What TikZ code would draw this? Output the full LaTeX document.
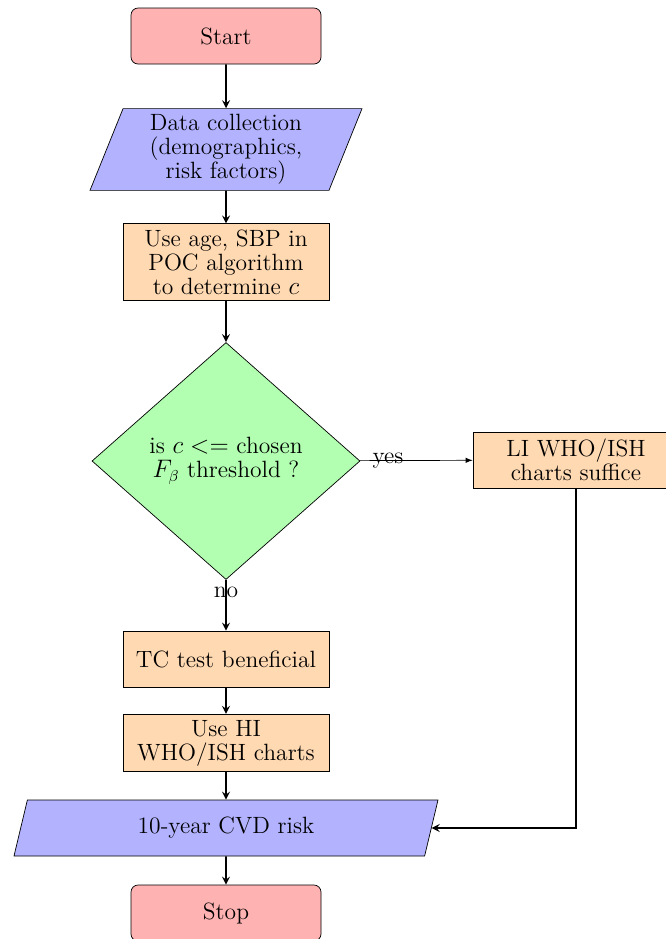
\documentclass[tikz,border=0pt]{standalone}
\usepackage{amsmath}
\usepackage{xcolor}
\usepackage{tikz}
\usetikzlibrary{arrows,shapes}

\begin{document}
\begin{tikzpicture}[font=\fontsize{13.4}{13.6}\selectfont,
    startstop/.style={rectangle, rounded corners, minimum width=3.8cm, minimum height=1.12cm, draw=black, fill=red!30},
    io/.style={trapezium, trapezium left angle=68, trapezium right angle=112, trapezium stretches body, align=center, draw=black, fill=blue!30},
    process/.style={rectangle, minimum width=4.12cm, minimum height=1.12cm, align=center, draw=black, fill=orange!30},
    decision/.style={diamond, shape aspect=1.13, minimum width=5.36cm, minimum height=4.74cm, inner sep=0pt, align=center, draw=black, fill=green!30},
    arrow/.style={line width=1pt,->,>=stealth}]
                        \useasboundingbox (0,0) rectangle (13.32,-18.78);
                        \node[startstop] (start) at (4.52,-0.72) {Start};
                        \node[io, minimum width=5.44cm, minimum height=1.6cm] (data) at (4.52,-2.99) {Data collection\\(demographics,\\risk factors)};
                        \node[process, minimum height=1.48cm] (poc) at (4.52,-5.24) {Use age, SBP in\\POC algorithm\\to determine $c$};
                        \node[decision] (dec) at (4.52,-9.22) {is $c <=$ chosen\\$F_\beta$ threshold ?};
                        \node[process] (li) at (11.52,-9.2) {LI WHO/ISH\\charts suffice};
                        \node[process] (tc) at (4.52,-13.18) {TC test beneficial};
                        \node[process] (hi) at (4.52,-14.86) {Use HI\\WHO/ISH charts};
                        \node[io, minimum width=8.48cm, minimum height=1.12cm] (cvd) at (4.52,-16.56) {10-year CVD risk};
                        \node[startstop] (stop) at (4.52,-18.26) {Stop};
                        % connectors
                        \draw[arrow] (start) -- (data);
                        \draw[arrow] (data) -- (poc);
                        \draw[arrow] (poc) -- (dec);
                        \draw[->, >=latex] (dec) -- node[near start] {yes} (li);
                        \draw[arrow] (dec) -- node[near start] {no} (tc);
                        \draw[arrow] (tc) -- (hi);
                        \draw[arrow] (hi) -- (cvd);
                        \draw[arrow] (li.south) |- (cvd.east);
                        \draw[arrow] (cvd) -- (stop);
                    \end{tikzpicture}
\end{document}
